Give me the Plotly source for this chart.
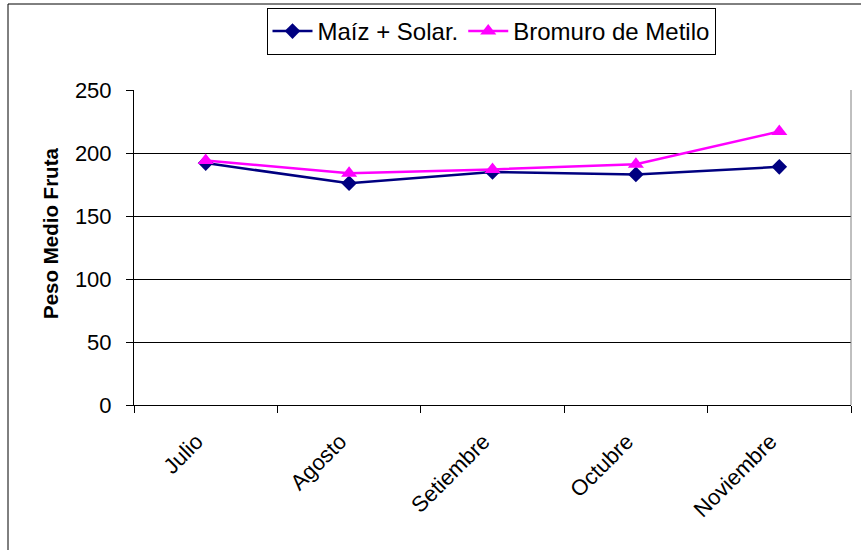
import plotly.graph_objects as go

# Mean fruit weight per month for two soil treatments
meses = ["Julio", "Agosto", "Setiembre", "Octubre", "Noviembre"]
maiz_solar = [192, 176, 185, 183, 189]
bromuro_metilo = [194, 184, 187, 191, 217]
y_ticks = [0, 50, 100, 150, 200, 250]

W, H = 861, 550
L, R, T, B = 134, 10, 90, 145
pw, ph = W - L - R, H - T - B


def px_x(x):
    return (x - L) / pw


def px_y(y):
    return (H - B - y) / ph


fig = go.Figure()
fig.add_trace(go.Scatter(
    x=meses, y=maiz_solar, name="Maíz + Solar.", mode="lines+markers",
    line=dict(color="#000080", width=2.5),
    marker=dict(symbol="diamond", size=12, color="#000080"),
))
fig.add_trace(go.Scatter(
    x=meses, y=bromuro_metilo, name="Bromuro de Metilo", mode="lines+markers",
    line=dict(color="#FF00FF", width=2.5),
    marker=dict(symbol="triangle-up", size=14, color="#FF00FF"),
))

font_family = "Liberation Sans, Arial, sans-serif"

fig.update_layout(
    width=W, height=H,
    margin=dict(l=L, r=R, t=T, b=B, pad=0, autoexpand=False),
    paper_bgcolor="white", plot_bgcolor="white",
    font=dict(family=font_family, size=22, color="black"),
    showlegend=True,
    legend=dict(
        orientation="h", x=px_x(491), xanchor="center", y=px_y(8), yanchor="top",
        bordercolor="black", borderwidth=1, bgcolor="white",
        font=dict(size=24), itemwidth=40, tracegroupgap=0,
    ),
    xaxis=dict(
        type="category", range=[-0.5, 4.5], tickangle=-45,
        tickson="boundaries", ticks="outside", ticklen=7, tickcolor="black",
        showline=True, linecolor="black", linewidth=1,
        showgrid=False, zeroline=False, tickfont=dict(size=22),
        ticklabelstandoff=14, ticklabelshift=-9,
    ),
    yaxis=dict(
        range=[0, 250], tickvals=y_ticks, ticks="outside", ticklen=7,
        tickcolor="black", showline=True, linecolor="black", linewidth=1,
        showgrid=True, gridcolor="black", gridwidth=1, zeroline=False,
        tickfont=dict(size=22), ticklabelstandoff=10,
    ),
    annotations=[dict(
        text="<b>Peso Medio Fruta</b>", textangle=-90,
        xref="paper", yref="paper", x=px_x(50), y=px_y(234),
        xanchor="center", yanchor="middle", showarrow=False,
        font=dict(size=20.5, family=font_family),
    )],
    shapes=[
        # outer chart frame
        dict(type="rect", xref="paper", yref="paper",
             x0=px_x(8), x1=px_x(900), y0=px_y(600), y1=px_y(4),
             line=dict(color="black", width=1)),
        # right border of plot area
        dict(type="line", xref="paper", yref="paper",
             x0=1, x1=1, y0=0, y1=1, line=dict(color="#808080", width=1)),
    ],
)

fig.write_html("out.html")
